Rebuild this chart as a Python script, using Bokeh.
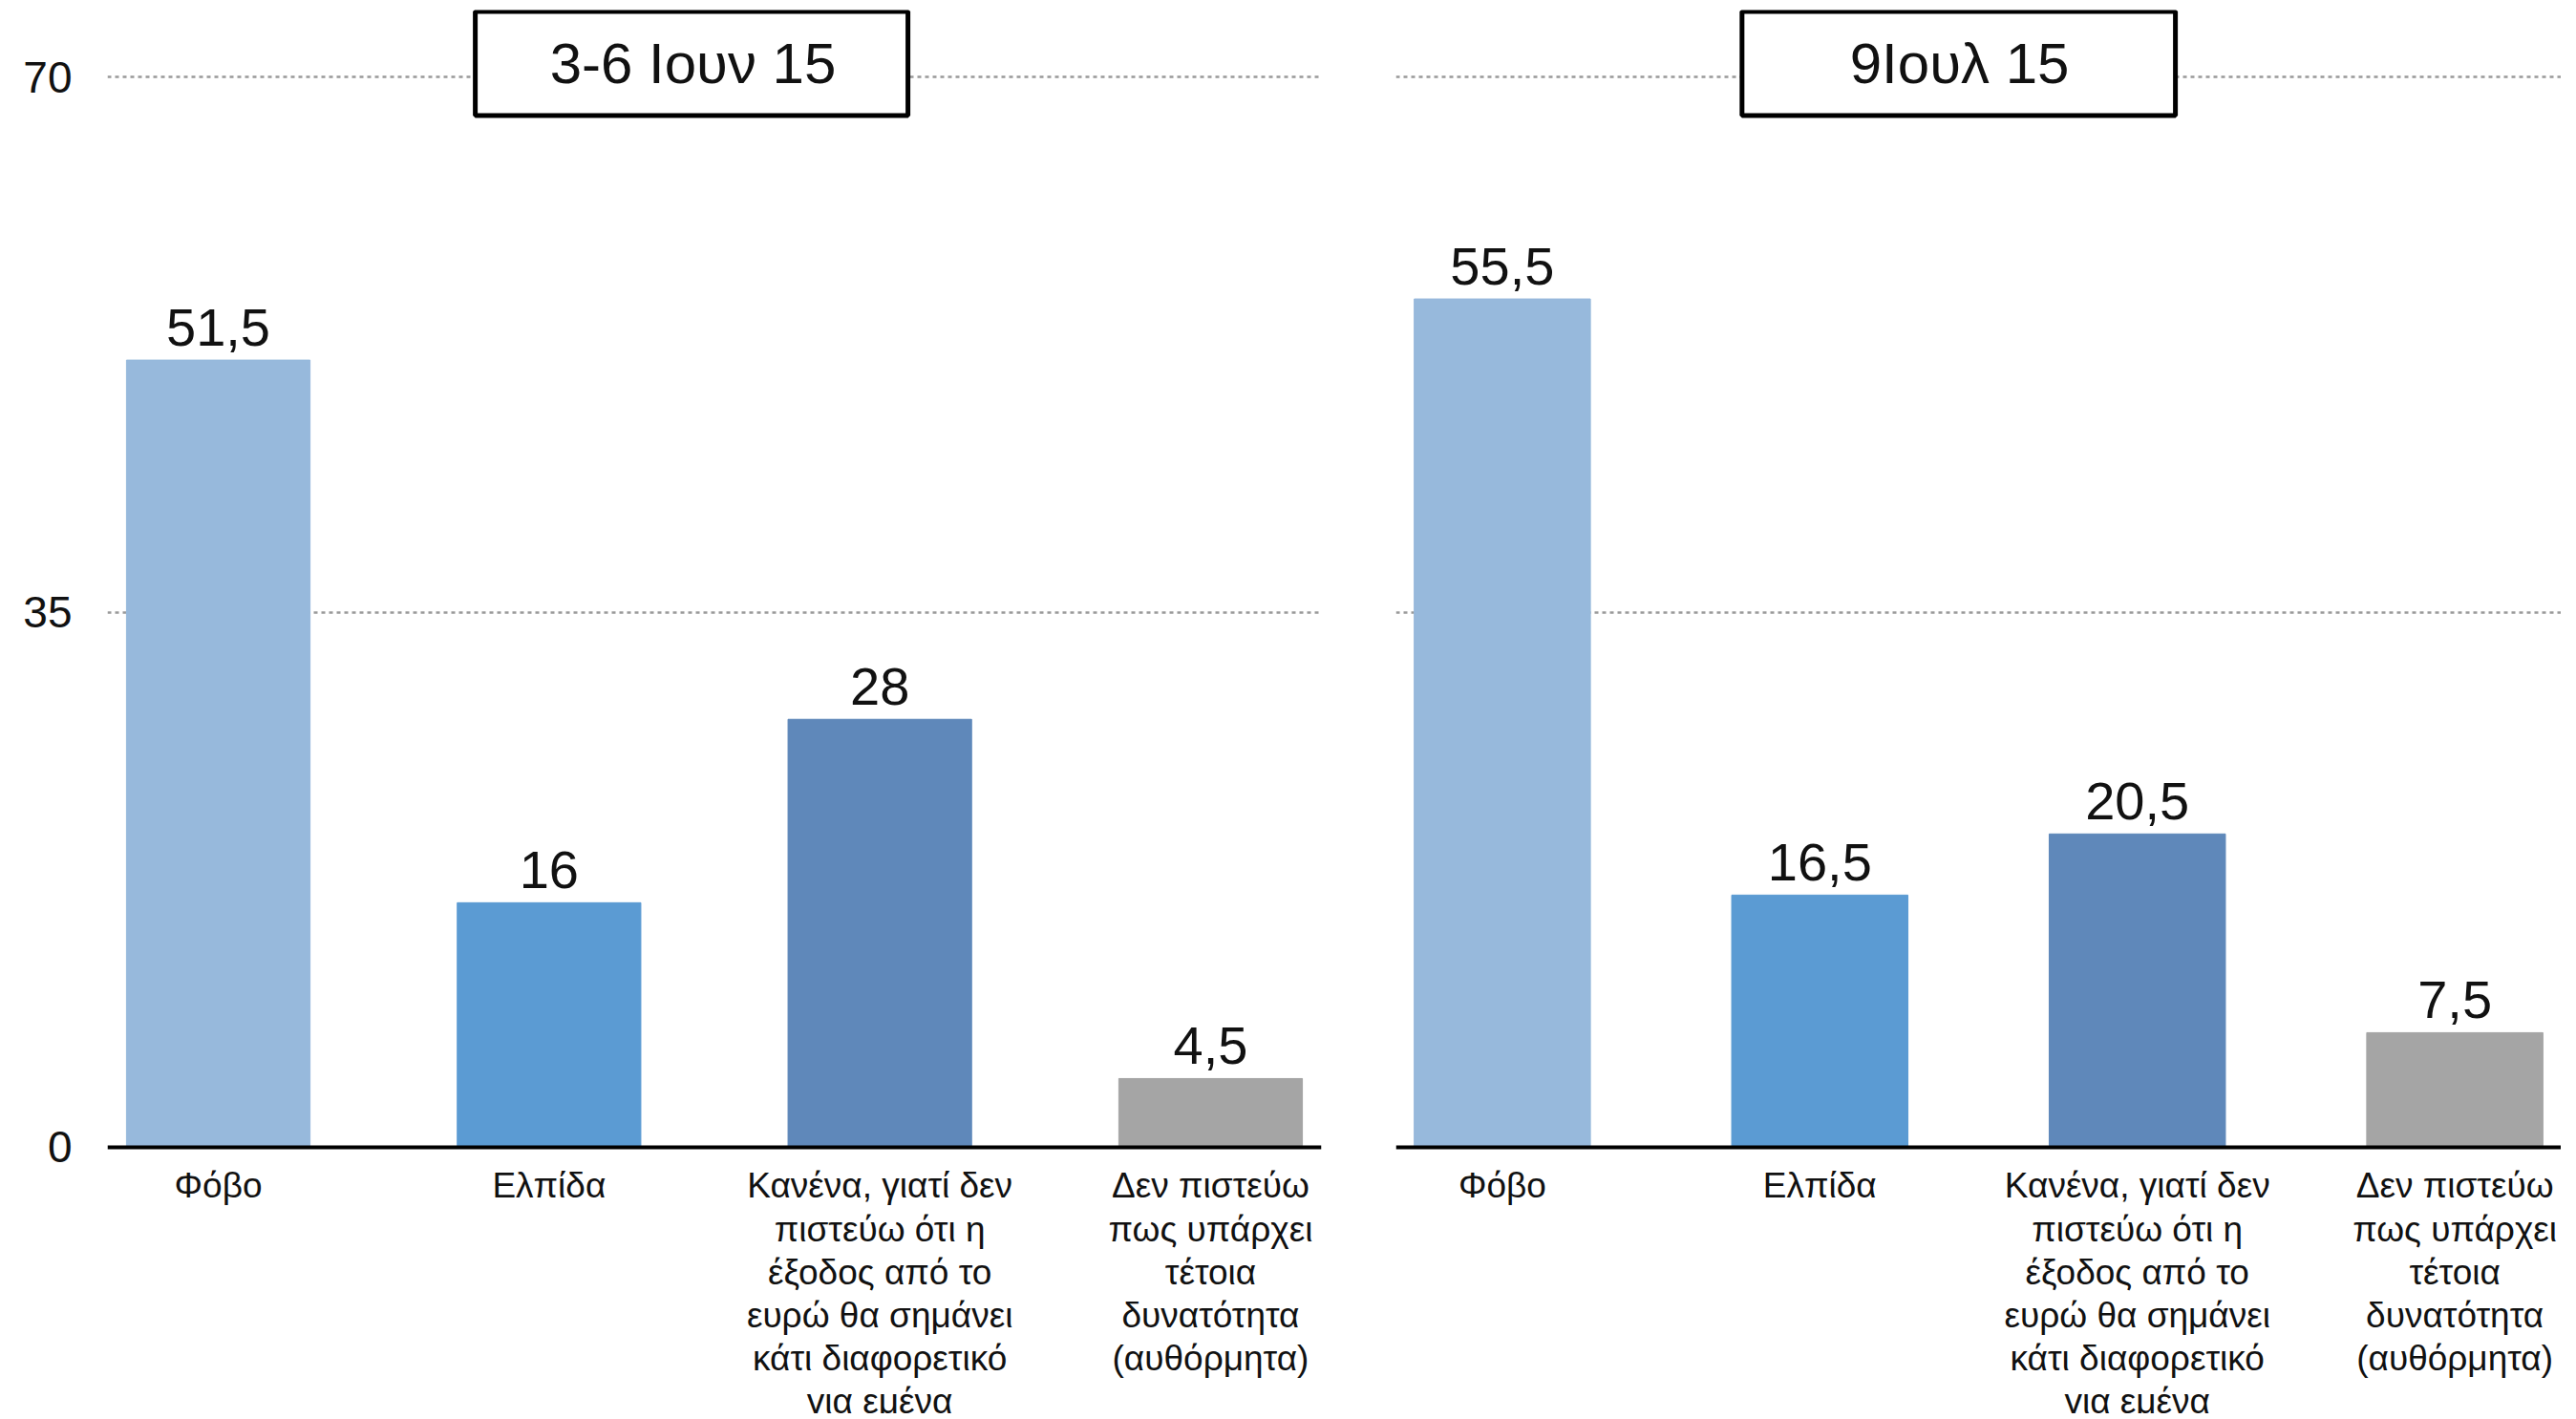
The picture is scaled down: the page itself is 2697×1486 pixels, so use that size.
from bokeh.plotting import figure
from bokeh.layouts import row
from bokeh.models import Range1d, FixedTicker, ColumnDataSource, BoxAnnotation, Label, Span
from bokeh.core.properties import value
from bokeh.embed import file_html
from bokeh.resources import INLINE

# ---- data ----
categories = [
    "Φόβο",
    "Ελπίδα",
    "Κανένα, γιατί δεν\nπιστεύω ότι η\nέξοδος από το\nευρώ θα σημάνει\nκάτι διαφορετικό\nγια εμένα",
    "Δεν πιστεύω\nπως υπάρχει\nτέτοια\nδυνατότητα\n(αυθόρμητα)",
]
june_values = [51.5, 16, 28, 4.5]
july_values = [55.5, 16.5, 20.5, 7.5]
colors = ["#97B9DC", "#5B9BD3", "#5F88BA", "#A5A5A5"]
panel_titles = ["3-6 Ιουν 15", "9Ιουλ 15"]
y_ticks = [0, 35, 70]

FONT_NAME = "Liberation Sans"
FONT = value(FONT_NAME)


def fmt(v):
    return ("%g" % v).replace(".", ",")


def make_panel(vals, title, width, left, right, show_y, box_lr, title_x):
    p = figure(width=width, height=1480, output_backend="svg", toolbar_location=None,
               x_range=Range1d(-0.335, 3.335), y_range=Range1d(-17.43, 74.4),
               min_border_left=left, min_border_right=right,
               min_border_top=10, min_border_bottom=0)
    p.outline_line_color = None
    p.background_fill_color = "white"
    p.border_fill_color = "white"
    xs = list(range(len(vals)))
    src = ColumnDataSource(dict(x=xs, top=vals, color=colors,
                                lab=[fmt(v) for v in vals],
                                cat=categories, base=[0] * len(vals)))
    p.vbar(x="x", top="top", bottom=0, width=0.555, color="color", source=src)
    p.text(x="x", y="top", text="lab", source=src, text_align="center",
           text_baseline="bottom", y_offset=-15, text_font=FONT,
           text_font_size="56px", text_color="#111111")
    # category labels under the baseline
    p.text(x="x", y="base", text="cat", source=src, text_align="center",
           text_baseline="top", y_offset=20, text_font=FONT,
           text_font_size="37px", text_color="#111111", text_line_height=1.1)

    # grid
    p.xgrid.grid_line_color = None
    p.ygrid.ticker = FixedTicker(ticks=[35, 70])
    p.ygrid.grid_line_color = "#999999"
    p.ygrid.grid_line_width = 2.5
    p.ygrid.grid_line_dash = "4 4"

    # baseline
    p.add_layout(Span(location=0, dimension="width", line_color="black", line_width=4))
    p.xaxis.visible = False

    ya = p.yaxis[0]
    ya.ticker = FixedTicker(ticks=y_ticks)
    ya.axis_line_color = None
    ya.major_tick_line_color = None
    ya.minor_tick_line_color = None
    ya.major_label_text_font = FONT_NAME
    ya.major_label_text_font_size = "46px"
    ya.major_label_text_color = "#111111"
    ya.major_label_standoff = 31
    if not show_y:
        ya.visible = False

    # title box
    box = BoxAnnotation(left=box_lr[0], right=box_lr[1], bottom=67.5, top=74.3,
                        fill_color="white", fill_alpha=1.0,
                        line_color="black", line_alpha=1.0, line_width=5)
    p.add_layout(box)
    p.add_layout(Label(x=title_x, y=70.9, text=title, text_align="center",
                       text_baseline="middle", text_font=FONT_NAME,
                       text_font_size="60px", text_color="#111111"))
    return p


p1 = make_panel(june_values, panel_titles[0], 1418, 112, 35, True, (0.777, 2.085), 1.435)
p2 = make_panel(july_values, panel_titles[1], 1263, 43, 0, False, (0.755, 2.12), 1.44)
p = row(p1, p2)

open("out.html", "w").write(file_html(p, INLINE))
